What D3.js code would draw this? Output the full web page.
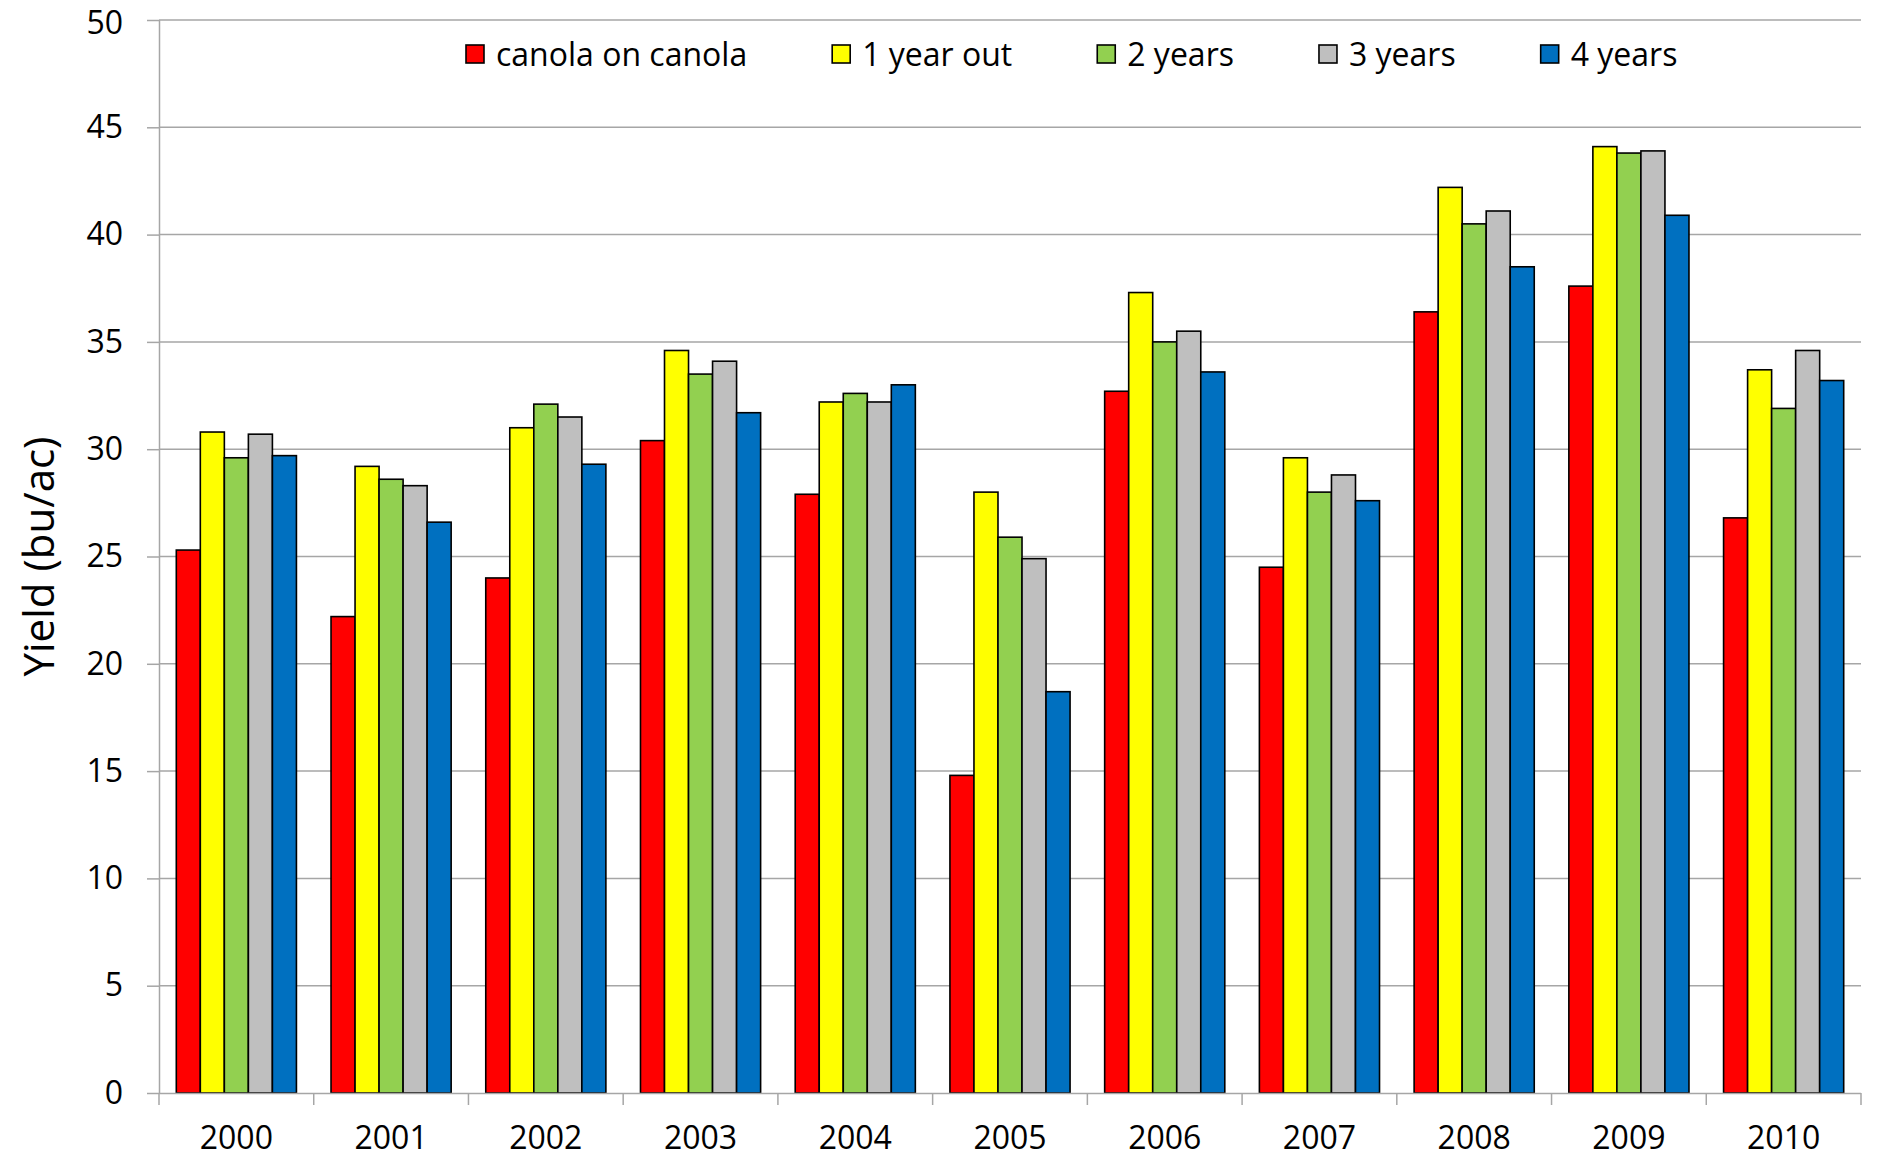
<!DOCTYPE html>
<html>
<head>
<meta charset="utf-8">
<script src="https://d3js.org/d3.v7.min.js"></script>
<style>
  body { margin: 0; background: #fff; }
  svg { display: block; font-family: "Open Sans", sans-serif; }
</style>
</head>
<body>
<svg width="1878" height="1159"></svg>
<script>
var years = ["2000", "2001", "2002", "2003", "2004", "2005", "2006", "2007", "2008", "2009", "2010"];
var seriesNames = ["canola on canola", "1 year out", "2 years", "3 years", "4 years"];
var seriesColors = ["#ff0000", "#ffff00", "#92d050", "#bfbfbf", "#0070c0"];

var canolaOnCanola = [25.3, 22.2, 24.0, 30.4, 27.9, 14.8, 32.7, 24.5, 36.4, 37.6, 26.8];
var oneYearOut     = [30.8, 29.2, 31.0, 34.6, 32.2, 28.0, 37.3, 29.6, 42.2, 44.1, 33.7];
var twoYears       = [29.6, 28.6, 32.1, 33.5, 32.6, 25.9, 35.0, 28.0, 40.5, 43.8, 31.9];
var threeYears     = [30.7, 28.3, 31.5, 34.1, 32.2, 24.9, 35.5, 28.8, 41.1, 43.9, 34.6];
var fourYears      = [29.7, 26.6, 29.3, 31.7, 33.0, 18.7, 33.6, 27.6, 38.5, 40.9, 33.2];

var yTicks = [0, 5, 10, 15, 20, 25, 30, 35, 40, 45, 50];

var seriesValues = [canolaOnCanola, oneYearOut, twoYears, threeYears, fourYears];

var svg = d3.select("svg"),
    margin = {top: 20, right: 17, bottom: 66, left: 159},
    width = svg.attr("width") - margin.left - margin.right,
    height = svg.attr("height") - margin.top - margin.bottom,
    g = svg.append("g").attr("transform", "translate(" + margin.left + "," + margin.top + ")");

var x0 = d3.scaleBand().domain(years).range([0, width]);
var x1 = d3.scaleBand().domain(seriesNames).range([0, x0.bandwidth()]).paddingOuter(0.72);
var y = d3.scaleLinear().domain([0, 50]).range([height, 0]);
var z = d3.scaleOrdinal().domain(seriesNames).range(seriesColors);

var gridColor = "#a6a6a6";

// horizontal gridlines
g.append("g")
  .selectAll("line")
  .data(yTicks.filter(function(d) { return d > 0; }))
  .enter().append("line")
    .attr("x1", 0)
    .attr("x2", width)
    .attr("y1", function(d) { return y(d); })
    .attr("y2", function(d) { return y(d); })
    .attr("stroke", gridColor)
    .attr("stroke-width", 1.5);

// bars
var rows = years.map(function(yr, i) {
  return {year: yr, values: seriesNames.map(function(s, j) { return {name: s, value: seriesValues[j][i]}; })};
});

var group = g.selectAll(".year")
  .data(rows)
  .enter().append("g")
    .attr("class", "year")
    .attr("transform", function(d) { return "translate(" + x0(d.year) + ",0)"; });

group.selectAll("rect")
  .data(function(d) { return d.values; })
  .enter().append("rect")
    .attr("x", function(d) { return x1(d.name); })
    .attr("width", x1.bandwidth())
    .attr("y", function(d) { return y(d.value); })
    .attr("height", function(d) { return height - y(d.value); })
    .attr("fill", function(d) { return z(d.name); })
    .attr("stroke", "#000")
    .attr("stroke-width", 1.6);

// axes
var yAxis = g.append("g")
  .call(d3.axisLeft(y).tickValues(yTicks).tickSize(12).tickPadding(24));

var xAxis = g.append("g")
  .attr("transform", "translate(0," + height + ")")
  .call(d3.axisBottom(x0).tickSize(0).tickPadding(33));

// tick marks between categories
xAxis.append("g")
  .selectAll("line")
  .data(years.concat(["end"]))
  .enter().append("line")
    .attr("x1", function(d, i) { return i * x0.step(); })
    .attr("x2", function(d, i) { return i * x0.step(); })
    .attr("y1", 0)
    .attr("y2", 12)
    .attr("stroke", gridColor)
    .attr("stroke-width", 1.5);

[yAxis, xAxis].forEach(function(a) {
  a.selectAll(".domain").attr("stroke", gridColor).attr("stroke-width", 1.5);
  a.selectAll(".tick line").attr("stroke", gridColor).attr("stroke-width", 1.5);
  a.selectAll("text")
    .attr("fill", "#000")
    .style("font-family", "'Open Sans', sans-serif")
    .style("font-size", "32px");
});
yAxis.select(".domain").attr("d", "M0.5,0V" + height);
xAxis.select(".domain").attr("d", "M0," + 0.5 + "H" + width);
// keep the top label inside the page
yAxis.selectAll(".tick").filter(function(d) { return d === 50; }).select("text").attr("dy", "0.42em");

// y title
svg.append("text")
  .attr("transform", "translate(54," + (margin.top + height / 2) + ") rotate(-90)")
  .attr("text-anchor", "middle")
  .style("font-size", "42px")
  .attr("fill", "#000")
  .text("Yield (bu/ac)");

// legend
var legend = svg.append("g").attr("transform", "translate(466,54)");
var lx = 0;
seriesNames.forEach(function(s) {
  var item = legend.append("g").attr("transform", "translate(" + lx + ",0)");
  item.append("rect")
    .attr("x", 0).attr("y", -9)
    .attr("width", 18).attr("height", 18)
    .attr("fill", z(s))
    .attr("stroke", "#000")
    .attr("stroke-width", 1.6);
  var t = item.append("text")
    .attr("x", 30)
    .attr("dy", "0.36em")
    .style("font-size", "32px")
    .attr("fill", "#000")
    .text(s);
  lx += 30 + t.node().getComputedTextLength() + 85;
});
</script>
</body>
</html>
